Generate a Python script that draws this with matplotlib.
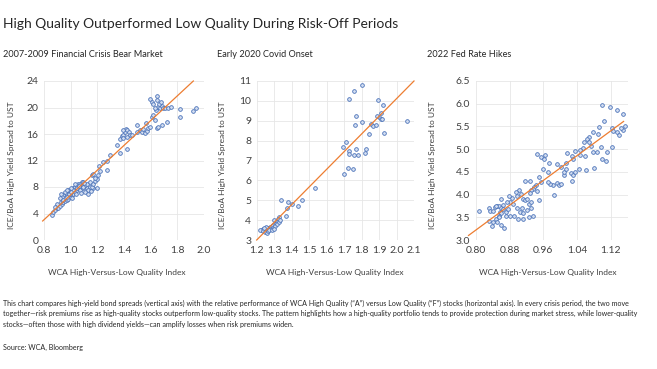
import numpy as np
import matplotlib
matplotlib.use("Agg")
from matplotlib import pyplot as plt
from matplotlib.ticker import FormatStrFormatter

plt.rcParams['font.family'] = ['Lato', 'DejaVu Sans']

# Panel 1: 2007-2009 Financial Crisis Bear Market
gfc_x = [0.857, 0.87, 0.882, 0.895, 0.907, 0.92, 0.932, 0.925, 0.945, 0.957,
         0.97, 0.982, 0.995, 1.007, 1.02, 1.032, 1.045, 1.057, 1.07, 1.082,
         0.957, 0.97, 0.982, 0.995, 1.007, 1.02, 1.032, 1.045, 1.057, 1.07,
         1.082, 1.095, 0.945, 0.932, 0.92, 0.97, 0.995, 1.02, 1.045, 1.07,
         1.095, 1.12, 1.145, 1.17, 1.195, 1.107, 1.12, 1.145, 1.132, 1.157,
         1.17, 1.182, 1.195, 1.157, 1.17, 1.207, 1.22, 1.182,
         0.96, 0.98, 1.0, 1.03, 1.06, 1.09, 1.11, 1.13, 1.15, 1.08,
         1.01, 0.99, 0.94, 0.90, 0.88, 1.04, 1.10, 1.00, 0.93, 0.97,
         1.215, 1.245, 1.27, 1.295, 1.27, 1.345, 1.37, 1.425, 1.37, 1.382,
         1.395, 1.407, 1.415, 1.425, 1.44, 1.445, 1.42, 1.395, 1.39, 1.457,
         1.495, 1.5, 1.52, 1.532, 1.545, 1.557, 1.57, 1.565, 1.582, 1.595,
         1.607, 1.62, 1.632, 1.645, 1.657, 1.682, 1.72, 1.64, 1.657, 1.67,
         1.682, 1.645, 1.65, 1.595, 1.607, 1.62, 1.632, 1.665, 1.675, 1.695,
         1.707, 1.732, 1.75, 1.82, 1.82, 1.92, 1.94]
gfc_y = [3.8, 4.2, 4.5, 4.8, 4.9, 5.1, 5.4, 5.7, 5.8, 5.9,
         6.0, 6.2, 6.5, 6.8, 7.0, 7.3, 7.5, 7.8, 8.0, 8.3,
         6.9, 7.0, 7.2, 7.3, 7.5, 7.8, 8.0, 8.2, 8.4, 8.5,
         8.7, 8.8, 6.8, 6.5, 6.3, 6.5, 7.0, 7.5, 7.8, 7.5,
         7.8, 7.9, 8.0, 7.8, 7.9, 8.3, 8.5, 8.8, 7.5, 8.0,
         8.5, 8.9, 9.2, 9.8, 10.0, 9.8, 10.4, 9.3,
         7.3, 7.6, 7.9, 8.4, 8.2, 8.0, 7.2, 7.0, 7.4, 7.1,
         6.4, 6.9, 6.1, 5.5, 5.0, 6.9, 8.6, 7.2, 7.0, 7.6,
         11.2, 11.7, 11.9, 12.8, 10.6, 14.4, 13.2, 13.8, 15.3, 15.7,
         15.9, 16.3, 16.7, 16.6, 16.3, 15.8, 15.6, 15.4, 16.6, 15.9,
         16.3, 17.3, 16.6, 16.3, 16.8, 16.2, 16.4, 17.7, 16.9, 17.1,
         18.5, 18.9, 18.1, 16.9, 17.1, 17.3, 17.8, 19.6, 20.1, 19.9,
         20.3, 21.1, 21.8, 21.3, 20.9, 20.6, 20.0, 20.5, 20.9, 19.9,
         20.0, 19.9, 20.1, 19.8, 18.5, 19.5, 19.9]

# Panel 2: Early 2020 Covid Onset
covid_x = [1.8, 1.759, 1.73, 1.896, 1.921, 1.768, 1.802, 1.762, 1.909, 1.902,
           1.909, 1.915, 1.886, 1.852, 1.863, 1.882, 2.058, 1.928, 1.843, 1.711,
           1.692, 1.726, 1.73, 1.768, 1.825, 1.82, 1.759, 1.781, 1.72, 1.753,
           1.698, 1.532, 1.339, 1.377, 1.457, 1.4, 1.375, 1.438, 1.368,
           1.33, 1.32, 1.301, 1.314, 1.305, 1.295, 1.286, 1.276, 1.266, 1.257,
           1.247, 1.238, 1.228, 1.219, 1.234, 1.247, 1.261, 1.266, 1.28, 1.291,
           1.307, 1.318, 1.326, 1.333, 1.253, 1.242, 1.272, 1.286, 1.299]
covid_y = [10.82, 10.52, 10.08, 10.05, 9.78, 9.25, 8.95, 8.78, 9.41, 9.2,
           9.11, 9.08, 9.25, 8.84, 8.74, 8.78, 9.01, 8.38, 8.34, 7.94,
           7.67, 7.5, 7.34, 7.6, 7.57, 7.37, 7.27, 7.27, 6.63, 6.57,
           6.33, 5.6, 4.99, 4.93, 4.99, 4.79, 4.59, 4.71, 4.22,
           4.16, 4.05, 3.99, 3.92, 3.82, 3.75, 3.72, 3.65, 3.62, 3.58,
           3.55, 3.55, 3.52, 3.52, 3.45, 3.42, 3.33, 3.45, 3.55, 3.62,
           3.72, 3.82, 3.92, 3.99, 3.65, 3.62, 3.52, 3.48, 3.55]

# Panel 3: 2022 Fed Rate Hikes
hikes_x = [1.098, 1.119, 1.134, 1.149, 1.104, 1.093, 1.077, 1.089, 1.122, 1.126,
           1.134, 1.138, 1.149, 1.154, 1.145, 1.069, 1.063, 1.056, 1.067, 1.072,
           1.078, 1.086, 1.096, 1.110, 1.122, 1.098, 1.108, 1.08, 1.055, 1.048,
           1.047, 1.059, 1.035, 1.045, 1.061,
           1.017, 1.027, 1.031, 1.014, 1.003, 0.992, 1.009, 1.009, 1.014, 1.025,
           1.027, 1.031, 1.034, 0.944, 0.954, 0.964, 0.962, 0.974, 0.96, 0.97,
           0.954, 0.949, 0.992, 0.996, 0.984, 0.976, 0.986, 1.001, 0.97,
           0.943, 0.938, 0.935, 0.932, 0.928, 0.946, 0.951, 0.928, 0.916, 0.903,
           0.908, 0.895, 0.897, 0.887, 0.881, 0.889, 0.873, 0.879, 0.911, 0.917,
           0.925, 0.921, 0.93, 0.897, 0.905, 0.909, 0.921, 0.932, 0.935, 0.913,
           0.901, 0.891, 0.881, 0.872, 0.925, 0.913,
           0.808, 0.832, 0.835, 0.842, 0.846, 0.851, 0.856, 0.848, 0.859, 0.857,
           0.865, 0.861, 0.864, 0.861, 0.856, 0.848, 0.842, 0.838, 0.851, 0.861,
           0.867, 0.856, 0.872, 0.877, 0.832]
hikes_y = [5.98, 5.92, 5.86, 5.78, 5.61, 5.49, 5.37, 5.33, 5.46, 5.40,
           5.37, 5.31, 5.42, 5.52, 5.46, 5.27, 5.22, 5.16, 5.16, 5.07,
           4.94, 4.94, 5.05, 4.94, 5.04, 4.79, 4.75, 4.59, 5.03, 4.98,
           4.87, 4.85, 4.95, 4.56, 4.53,
           4.91, 4.85, 4.79, 4.69, 4.60, 4.68, 4.42, 4.50, 4.56, 4.47,
           4.30, 4.44, 4.50, 4.90, 4.82, 4.88, 4.79, 4.70, 4.57, 4.50,
           4.27, 4.38, 4.26, 4.20, 4.20, 4.23, 3.98, 4.23, 4.27,
           4.20, 4.16, 4.13, 4.09, 4.04, 4.08, 3.87, 4.30, 4.30, 4.09,
           4.01, 4.05, 3.96, 3.92, 3.83, 3.80, 3.83, 3.96, 3.90, 3.87,
           3.79, 3.90, 3.84, 3.71, 3.61, 3.70, 3.67, 3.71, 3.53, 3.47,
           3.46, 3.53, 3.53, 3.52, 3.50, 3.59,
           3.64, 3.71, 3.64, 3.64, 3.72, 3.74, 3.75, 3.75, 3.70, 3.62,
           3.68, 3.90, 3.76, 3.59, 3.53, 3.46, 3.39, 3.31, 3.40, 3.33,
           3.27, 3.50, 3.61, 3.68, 3.41]

# trend lines (end points)
gfc_trend_x = [0.79, 1.92]
gfc_trend_y = [2.87, 24.0]
covid_trend_x = [1.2, 2.1]
covid_trend_y = [3.0, 11.0]
hikes_trend_x = [0.783, 1.15]
hikes_trend_y = [3.10, 5.61]

panels = [
    dict(title="2007-2009 Financial Crisis Bear Market", x=gfc_x, y=gfc_y,
         tx=gfc_trend_x, ty=gfc_trend_y, xlim=(0.8, 2.0), ylim=(0, 24),
         xticks=np.arange(0.8, 2.01, 0.2), yticks=np.arange(0, 24.1, 4),
         xfmt='%.1f', yfmt='%d', pos=[44, 81, 204, 240]),
    dict(title="Early 2020 Covid Onset", x=covid_x, y=covid_y,
         tx=covid_trend_x, ty=covid_trend_y, xlim=(1.2, 2.1), ylim=(3, 11),
         xticks=np.arange(1.2, 2.11, 0.1), yticks=np.arange(3, 11.1, 1),
         xfmt='%.1f', yfmt='%d', pos=[256.7, 81, 414, 240]),
    dict(title="2022 Fed Rate Hikes", x=hikes_x, y=hikes_y,
         tx=hikes_trend_x, ty=hikes_trend_y, xlim=(0.8, 1.16), ylim=(3.0, 6.5),
         xticks=np.arange(0.8, 1.121, 0.08), yticks=np.arange(3.0, 6.51, 0.5),
         xfmt='%.2f', yfmt='%.1f', pos=[475.7, 81, 627.8, 240]),
]

W, H = 657, 369
fig = plt.figure(figsize=(W / 100, H / 100), dpi=100)

title_x = [3, 217, 427]
ylab_x = [12, 222, 432]
xlab_x = [117, 335, 548]

for i, p in enumerate(panels):
    l, t, r, b = p['pos']
    ax = fig.add_axes([l / W, 1 - b / H, (r - l) / W, (b - t) / H])
    ax.scatter(p['x'], p['y'], s=7, facecolor='#d5dff2', edgecolor='#4a72b8',
               linewidth=0.6, zorder=3)
    ax.plot(p['tx'], p['ty'], color='#ed7d31', linewidth=0.9, zorder=4,
            clip_on=False)
    ax.set_xlim(*p['xlim'])
    ax.set_ylim(*p['ylim'])
    ax.set_xticks(p['xticks'])
    ax.set_yticks(p['yticks'])
    ax.xaxis.set_major_formatter(FormatStrFormatter(p['xfmt']))
    ax.yaxis.set_major_formatter(FormatStrFormatter(p['yfmt']))
    ax.tick_params(length=0, labelsize=7.5, colors='#404040', pad=4)
    ax.grid(True, color='#e6e6e6', linewidth=0.6)
    ax.set_axisbelow(True)
    for s in ax.spines.values():
        s.set_visible(False)

    fig.text(title_x[i] / W, 1 - 57 / H, p['title'], fontsize=6.6,
             color='#262626', va='baseline')
    fig.text(ylab_x[i] / W, 1 - 165 / H, "ICE/BoA High Yield Spread to UST",
             fontsize=6, color='#404040', rotation=90, va='center', ha='center')
    fig.text(xlab_x[i] / W, 1 - 272 / H, "WCA High-Versus-Low Quality Index",
             fontsize=6, color='#404040', va='center', ha='center')

fig.text(3 / W, 1 - 28.5 / H,
         "High Quality Outperformed Low Quality During Risk-Off Periods",
         fontsize=10, color='#262626', va='baseline')

caption = [
    "This chart compares high-yield bond spreads (vertical axis) with the relative "
    "performance of WCA High Quality (\u201cA\u201d) versus Low Quality (\u201cF\u201d) "
    "stocks (horizontal axis). In every crisis period, the two move",
    "together\u2014risk premiums rise as high-quality stocks outperform low-quality "
    "stocks. The pattern highlights how a high-quality portfolio tends to provide "
    "protection during market stress, while lower-quality",
    "stocks\u2014often those with high dividend yields\u2014can amplify losses when "
    "risk premiums widen.",
]
for k, line in enumerate(caption):
    fig.text(3 / W, 1 - (303 + 10.7 * k) / H, line, fontsize=5.1,
             color='#262626', va='center')
fig.text(3 / W, 1 - 347.5 / H, "Source: WCA, Bloomberg", fontsize=5.1,
         color='#262626', va='center')

fig.savefig('out.png', dpi=100)
